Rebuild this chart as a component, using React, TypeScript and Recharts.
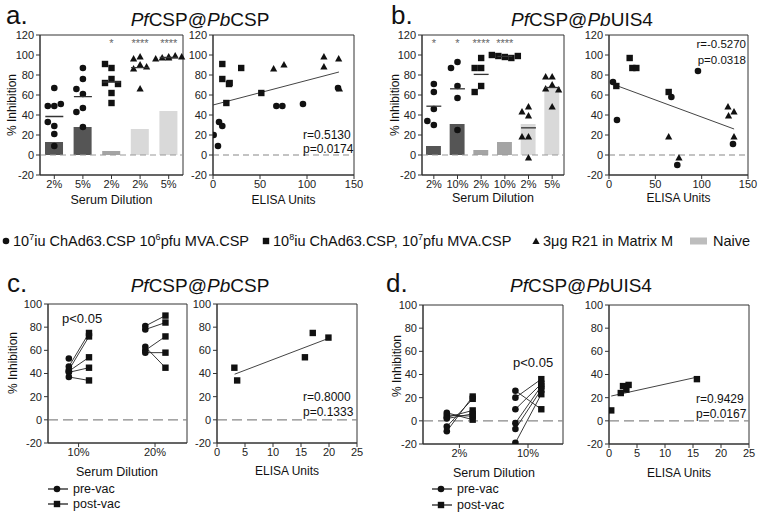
import React from 'react';
import {
  ComposedChart,
  ScatterChart,
  Bar,
  Cell,
  Scatter,
  XAxis,
  YAxis,
  ReferenceLine,
  ReferenceArea,
} from 'recharts';

// ---------------- data ----------------
// Panel a (PfCSP@PbCSP)
const A_CATEGORIES = ['2%', '5%', '2%', '2%', '5%'];
const A_GROUPS = ['circle', 'circle', 'square', 'triangle', 'triangle'];
const A_NAIVE = [13, 28, 4, 26, 44];
const A_STARS = ['', '', '*', '****', '****'];
const A_POINTS = [
  [67, 49, 49, 51, 29, 33, 21, 9],
  [87, 76, 61, 66, 47, 43, 28],
  [87, 91, 76, 72, 71, 62, 52],
  [98, 96, 90, 86, 88, 66],
  [98, 97, 99, 96, 98, 97],
];
const A_ELISA_CIRCLE_X = [0.7, 5.3, 6.4, 9.9, 67.4, 73.8, 95.7, 133];
const A_ELISA_CIRCLE_Y = [20, 9, 33, 29, 49, 49, 51, 67];
const A_ELISA_SQUARE_X = [9.9, 9.9, 17.7, 17, 14.2, 30, 51.4];
const A_ELISA_SQUARE_Y = [91, 76, 72, 71, 52, 87, 62];
const A_ELISA_TRIANGLE_X = [64.5, 75.5, 118, 118, 133.7, 134.5];
const A_ELISA_TRIANGLE_Y = [86, 90, 98, 88, 96, 66];
const A_FIT_X = [0, 134];
const A_FIT_Y = [50, 83];
const A_STATS = ['r=0.5130', 'p=0.0174'];

// Panel b (PfCSP@PbUIS4)
const B_CATEGORIES = ['2%', '10%', '2%', '10%', '2%', '5%'];
const B_GROUPS = ['circle', 'circle', 'square', 'square', 'triangle', 'triangle'];
const B_NAIVE = [9, 31, 5, 13, 31, 68];
const B_STARS = ['*', '*', '****', '****', '', ''];
const B_POINTS = [
  [63, 71, 46, 30, 34],
  [93, 87, 69, 57, 25],
  [97, 87, 87, 69, 63],
  [98, 99, 97, 100, 99],
  [48, 43, 39, 18, 18, -3],
  [78, 78, 70, 66, 65, 48],
];
const B_ELISA_CIRCLE_X = [4.3, 8.6, 67.3, 96, 73.7, 133.8];
const B_ELISA_CIRCLE_Y = [73, 35, 58, 84, -10, 11];
const B_ELISA_SQUARE_X = [22.3, 25.2, 29.5, 7.9, 64.4];
const B_ELISA_SQUARE_Y = [97, 87, 87, 69, 63];
const B_ELISA_TRIANGLE_X = [64.4, 75.5, 128.4, 129, 134.9, 134.9];
const B_ELISA_TRIANGLE_Y = [18, -3, 48, 39, 43, 18];
const B_FIT_X = [5, 135];
const B_FIT_Y = [70.5, 26];
const B_STATS = ['r=-0.5270', 'p=0.0318'];

// Panel c (paired, PfCSP@PbCSP)
const C_CATEGORIES = ['10%', '20%'];
const C_PRE = [
  [46, 43, 42, 41, 37, 53],
  [81, 78, 60, 58, 63],
];
const C_POST = [
  [75, 72, 54, 45, 34, null],
  [90, 84, 72, 58, 45],
];
const C_ELISA_X = [3.1, 3.6, 15.7, 17.1, 19.9];
const C_ELISA_Y = [45, 34, 54, 75, 71];
const C_FIT_X = [3.15, 19.9];
const C_FIT_Y = [39.4, 70.3];
const C_STATS = ['r=0.8000', 'p=0.1333'];

// Panel d (paired, PfCSP@PbUIS4)
const D_CATEGORIES = ['2%', '10%'];
const D_PRE = [
  [-9, -5, 7, 5, 3, 2],
  [26, 20, 10, -2, -7, -19],
];
const D_POST = [
  [21, 19, 1, 4, 9, 6],
  [10, 36, 32, 30, 27, 23],
];
const D_ELISA_X = [0.4, 2.1, 2.5, 3.1, 3.5, 15.7];
const D_ELISA_Y = [9, 24, 30, 27, 31, 36];
const D_FIT_X = [0.4, 15.7];
const D_FIT_Y = [21.4, 37.7];
const D_STATS = ['r=0.9429', 'p=0.0167'];

// ---------------- styles ----------------
const FONT = '"Liberation Sans", Arial, Helvetica, sans-serif';
const TICK = { fontSize: 11, fill: '#222', fontFamily: FONT };
const AXIS = { stroke: '#333', strokeWidth: 1 };
const GROUP_FILL: Record<string, string> = {
  circle: '#555555',
  square: '#a4a4a4',
  triangle: '#d9d9d9',
};
const ML = 50;
const MT = 12;
const MR = 12;
const XH = 40;

type Box = { x: number; y: number; w: number; h: number };

const drawMarker = (kind: string, x: number, y: number, fill = '#111') => {
  if (kind === 'circle') return <circle cx={x} cy={y} r={3.3} fill={fill} />;
  if (kind === 'square') return <rect x={x - 3.2} y={y - 3.2} width={6.4} height={6.4} fill={fill} />;
  return (
    <polygon
      points={`${x},${y - 4} ${x - 3.6},${y + 2.6} ${x + 3.6},${y + 2.6}`}
      fill={fill}
    />
  );
};

const markerShape = (kind: string) => (p: any) => {
  if (p == null || p.cx == null || p.cy == null) return <g />;
  const j = (p.payload && p.payload.j) || 0;
  return drawMarker(kind, p.cx + j, p.cy);
};

function swarm(vals: number[], pxPerUnit: number, size: number): number[] {
  const placed: { x: number; y: number }[] = [];
  const cands = [0, -size, size, -size / 2, size / 2, -1.5 * size, 1.5 * size, -2 * size, 2 * size];
  return vals.map((v) => {
    const y = v * pxPerUnit;
    let chosen = 0;
    for (const c of cands) {
      if (placed.every((q) => Math.hypot(q.x - c, q.y - y) >= size)) {
        chosen = c;
        break;
      }
    }
    placed.push({ x: chosen, y });
    return chosen;
  });
}

const zip = (xs: number[], ys: number[]) => xs.map((x, i) => ({ x, y: ys[i] }));

function T(props: {
  x: number;
  y: number;
  size: number;
  anchor?: 'left' | 'center' | 'right';
  rotate?: boolean;
  color?: string;
  children: React.ReactNode;
}) {
  const { x, y, size, anchor = 'left', rotate, color = '#111', children } = props;
  const tx = anchor === 'center' ? '-50%' : anchor === 'right' ? '-100%' : '0';
  return (
    <div
      style={{
        position: 'absolute',
        left: x,
        top: y,
        fontSize: size,
        lineHeight: 1,
        fontFamily: FONT,
        color,
        whiteSpace: 'nowrap',
        transform: rotate
          ? 'translate(-50%, -50%) rotate(-90deg)'
          : `translate(${tx}, -50%)`,
      }}
    >
      {children}
    </div>
  );
}

// ---------------- bar + dots panel ----------------
function BarPanel(props: {
  box: Box;
  cats: string[];
  groups: string[];
  naive: number[];
  stars: string[];
  points: number[][];
}) {
  const { box, cats, groups, naive, stars, points } = props;
  const ppu = box.h / 140;
  const ids = cats.map((_, i) => 'c' + i);
  const rows = ids.map((id, i) => ({ id, naive: naive[i] }));
  const bw = (box.w / cats.length) * 0.63;
  const series: Record<string, any[]> = { circle: [], square: [], triangle: [] };
  points.forEach((vals, i) => {
    const off = swarm(vals, ppu, 6.5);
    vals.forEach((v, k) => series[groups[i]].push({ id: ids[i], v, j: off[k] }));
  });
  const means = points.map((vals, i) => ({
    id: ids[i],
    v: vals.reduce((a, b) => a + b, 0) / vals.length,
  }));
  const starRows = stars.map((s, i) => ({ id: ids[i], v: 112, s }));
  return (
    <div style={{ position: 'absolute', left: box.x - ML, top: box.y - MT }}>
      <ComposedChart
        width={box.w + ML + MR}
        height={box.h + MT + XH}
        data={rows}
        margin={{ top: MT, right: MR, bottom: 0, left: 0 }}
      >
        <XAxis
          dataKey="id"
          type="category"
          allowDuplicatedCategory={false}
          height={XH}
          tick={TICK}
          tickSize={4}
          tickMargin={1}
          axisLine={AXIS}
          tickLine={AXIS}
          interval={0}
          tickFormatter={(id: string) => cats[Number(String(id).slice(1))]}
        />
        <YAxis
          type="number"
          domain={[-20, 120]}
          ticks={[-20, 0, 20, 40, 60, 80, 100, 120]}
          width={ML}
          tick={TICK}
          tickSize={4}
          tickMargin={2}
          axisLine={AXIS}
          tickLine={AXIS}
          interval={0}
          allowDataOverflow
        />
        <ReferenceArea y1={-20} y2={120} fill="none" stroke="#333" strokeWidth={1} />
        <Scatter
          data={starRows}
          dataKey="v"
          isAnimationActive={false}
          shape={(p: any) =>
            p && p.payload && p.payload.s ? (
              <text
                x={p.cx}
                y={p.cy}
                textAnchor="middle"
                dominantBaseline="central"
                fontSize={11}
                fontFamily={FONT}
                fill="#666"
              >
                {p.payload.s}
              </text>
            ) : (
              <g />
            )
          }
        />
        <Bar dataKey="naive" barSize={bw} isAnimationActive={false}>
          {rows.map((r, i) => (
            <Cell key={r.id} fill={GROUP_FILL[groups[i]]} />
          ))}
        </Bar>
        <ReferenceLine y={0} stroke="#999" strokeDasharray="6 4" strokeWidth={1.2} />
        {['circle', 'square', 'triangle'].map((k) => (
          <Scatter
            key={k}
            data={series[k]}
            dataKey="v"
            isAnimationActive={false}
            shape={markerShape(k)}
          />
        ))}
        <Scatter
          data={means}
          dataKey="v"
          isAnimationActive={false}
          shape={(p: any) =>
            p && p.cx != null ? (
              <line
                x1={p.cx - bw / 2}
                x2={p.cx + bw / 2}
                y1={p.cy}
                y2={p.cy}
                stroke="#333"
                strokeWidth={1.3}
              />
            ) : (
              <g />
            )
          }
        />
      </ComposedChart>
    </div>
  );
}

// ---------------- correlation panel ----------------
function CorrPanel(props: {
  box: Box;
  xDomain: [number, number];
  xTicks: number[];
  yDomain: [number, number];
  yTicks: number[];
  series: { kind: string; data: { x: number; y: number }[] }[];
  fitX: number[];
  fitY: number[];
  dash: string;
}) {
  const { box, xDomain, xTicks, yDomain, yTicks, series, fitX, fitY, dash } = props;
  return (
    <div style={{ position: 'absolute', left: box.x - ML, top: box.y - MT }}>
      <ScatterChart
        width={box.w + ML + MR}
        height={box.h + MT + XH}
        margin={{ top: MT, right: MR, bottom: 0, left: 0 }}
      >
        <XAxis
          type="number"
          dataKey="x"
          domain={xDomain}
          ticks={xTicks}
          height={XH}
          tick={TICK}
          tickSize={4}
          tickMargin={1}
          axisLine={AXIS}
          tickLine={AXIS}
          interval={0}
          allowDataOverflow
        />
        <YAxis
          type="number"
          dataKey="y"
          domain={yDomain}
          ticks={yTicks}
          width={ML}
          tick={TICK}
          tickSize={4}
          tickMargin={2}
          axisLine={AXIS}
          tickLine={AXIS}
          interval={0}
          allowDataOverflow
        />
        <ReferenceArea
          x1={xDomain[0]}
          x2={xDomain[1]}
          y1={yDomain[0]}
          y2={yDomain[1]}
          fill="none"
          stroke="#333"
          strokeWidth={1}
        />
        <ReferenceLine y={0} stroke="#888" strokeDasharray={dash} strokeWidth={1.2} />
        <ReferenceLine
          segment={[
            { x: fitX[0], y: fitY[0] },
            { x: fitX[1], y: fitY[1] },
          ]}
          stroke="#444"
          strokeWidth={1}
        />
        {series.map((s, i) => (
          <Scatter
            key={i}
            data={s.data}
            isAnimationActive={false}
            shape={markerShape(s.kind)}
          />
        ))}
      </ScatterChart>
    </div>
  );
}

// ---------------- paired pre/post panel ----------------
function PairedPanel(props: {
  box: Box;
  cats: string[];
  tickPos: number[];
  preOff: number;
  postOff: number;
  pre: (number | null)[][];
  post: (number | null)[][];
}) {
  const { box, cats, tickPos, preOff, postOff, pre, post } = props;
  const preData: { x: number; y: number }[] = [];
  const postData: { x: number; y: number }[] = [];
  const segs: { x1: number; y1: number; x2: number; y2: number }[] = [];
  pre.forEach((vals, g) => {
    vals.forEach((v, k) => {
      const w = post[g][k];
      if (v != null) preData.push({ x: tickPos[g] + preOff, y: v });
      if (w != null) postData.push({ x: tickPos[g] + postOff, y: w });
      if (v != null && w != null)
        segs.push({ x1: tickPos[g] + preOff, y1: v, x2: tickPos[g] + postOff, y2: w });
    });
  });
  return (
    <div style={{ position: 'absolute', left: box.x - ML, top: box.y - MT }}>
      <ScatterChart
        width={box.w + ML + MR}
        height={box.h + MT + XH}
        margin={{ top: MT, right: MR, bottom: 0, left: 0 }}
      >
        <XAxis
          type="number"
          dataKey="x"
          domain={[0, 1]}
          ticks={tickPos}
          height={XH}
          tick={TICK}
          tickSize={4}
          tickMargin={1}
          axisLine={AXIS}
          tickLine={AXIS}
          interval={0}
          tickFormatter={(v: number) => cats[tickPos.indexOf(v)]}
          allowDataOverflow
        />
        <YAxis
          type="number"
          dataKey="y"
          domain={[-20, 100]}
          ticks={[-20, 0, 20, 40, 60, 80, 100]}
          width={ML}
          tick={TICK}
          tickSize={4}
          tickMargin={2}
          axisLine={AXIS}
          tickLine={AXIS}
          interval={0}
          allowDataOverflow
        />
        <ReferenceArea x1={0} x2={1} y1={-20} y2={100} fill="none" stroke="#333" strokeWidth={1} />
        <ReferenceLine y={0} stroke="#888" strokeDasharray="10 5" strokeWidth={1.2} />
        {segs.map((s, i) => (
          <ReferenceLine
            key={i}
            segment={[
              { x: s.x1, y: s.y1 },
              { x: s.x2, y: s.y2 },
            ]}
            stroke="#222"
            strokeWidth={0.9}
          />
        ))}
        <Scatter data={preData} isAnimationActive={false} shape={markerShape('circle')} />
        <Scatter data={postData} isAnimationActive={false} shape={markerShape('square')} />
      </ScatterChart>
    </div>
  );
}

function LegendItem({ x, y, kind, label }: { x: number; y: number; kind: string; label: string }) {
  return (
    <>
      <svg
        width={22}
        height={10}
        style={{ position: 'absolute', left: x, top: y - 5, overflow: 'visible' }}
      >
        <line x1={0} x2={20} y1={5} y2={5} stroke="#111" strokeWidth={1.2} />
        {drawMarker(kind, 9, 5)}
      </svg>
      <T x={x + 25} y={y} size={12.5}>
        {label}
      </T>
    </>
  );
}

const Title = ({ x, y, target }: { x: number; y: number; target: string }) => (
  <T x={x} y={y} size={19} anchor="center">
    <i>Pf</i>CSP@<i>Pb</i>
    {target}
  </T>
);

const sup = (s: string) => (
  <sup style={{ fontSize: 9, verticalAlign: 'top', position: 'relative', top: -1 }}>{s}</sup>
);

export default function App() {
  const A1: Box = { x: 40, y: 35, w: 143, h: 140 };
  const A2: Box = { x: 213, y: 35, w: 141, h: 140 };
  const B1: Box = { x: 422, y: 35, w: 142, h: 140 };
  const B2: Box = { x: 609, y: 35, w: 139, h: 140 };
  const C1: Box = { x: 48, y: 304, w: 139, h: 139 };
  const C2: Box = { x: 217, y: 304, w: 140, h: 139 };
  const D1: Box = { x: 423, y: 305, w: 140, h: 139 };
  const D2: Box = { x: 609, y: 305, w: 140, h: 139 };
  const yTicksAB = [-20, 0, 20, 40, 60, 80, 100, 120];
  const yTicksCD = [-20, 0, 20, 40, 60, 80, 100];

  return (
    <div
      style={{
        position: 'absolute',
        left: 0,
        top: 0,
        width: 760,
        height: 514,
        background: '#fff',
        overflow: 'hidden',
        fontFamily: FONT,
      }}
    >
      {/* panel letters and titles */}
      <T x={6} y={15} size={26}>a.</T>
      <T x={391} y={15} size={26}>b.</T>
      <T x={7} y={283} size={26}>c.</T>
      <T x={386} y={283} size={26}>d.</T>
      <Title x={200} y={19} target="CSP" />
      <Title x={582} y={19} target="UIS4" />
      <Title x={200} y={285} target="CSP" />
      <Title x={581} y={285} target="UIS4" />

      {/* panel a */}
      <BarPanel
        box={A1}
        cats={A_CATEGORIES}
        groups={A_GROUPS}
        naive={A_NAIVE}
        stars={A_STARS}
        points={A_POINTS}
      />
      <CorrPanel
        box={A2}
        xDomain={[0, 150]}
        xTicks={[0, 50, 100, 150]}
        yDomain={[-20, 120]}
        yTicks={yTicksAB}
        series={[
          { kind: 'circle', data: zip(A_ELISA_CIRCLE_X, A_ELISA_CIRCLE_Y) },
          { kind: 'square', data: zip(A_ELISA_SQUARE_X, A_ELISA_SQUARE_Y) },
          { kind: 'triangle', data: zip(A_ELISA_TRIANGLE_X, A_ELISA_TRIANGLE_Y) },
        ]}
        fitX={A_FIT_X}
        fitY={A_FIT_Y}
        dash="6 4"
      />
      <T x={12} y={105} size={12} rotate>% Inhibition</T>
      <T x={111.5} y={200} size={12.5} anchor="center">Serum Dilution</T>
      <T x={283.5} y={200} size={12} anchor="center">ELISA Units</T>
      <T x={303} y={135} size={12}>{A_STATS[0]}</T>
      <T x={303} y={149} size={12}>{A_STATS[1]}</T>

      {/* panel b */}
      <BarPanel
        box={B1}
        cats={B_CATEGORIES}
        groups={B_GROUPS}
        naive={B_NAIVE}
        stars={B_STARS}
        points={B_POINTS}
      />
      <CorrPanel
        box={B2}
        xDomain={[0, 150]}
        xTicks={[0, 50, 100, 150]}
        yDomain={[-20, 120]}
        yTicks={yTicksAB}
        series={[
          { kind: 'circle', data: zip(B_ELISA_CIRCLE_X, B_ELISA_CIRCLE_Y) },
          { kind: 'square', data: zip(B_ELISA_SQUARE_X, B_ELISA_SQUARE_Y) },
          { kind: 'triangle', data: zip(B_ELISA_TRIANGLE_X, B_ELISA_TRIANGLE_Y) },
        ]}
        fitX={B_FIT_X}
        fitY={B_FIT_Y}
        dash="6 4"
      />
      <T x={395} y={105} size={12} rotate>% Inhibition</T>
      <T x={493} y={198} size={12.5} anchor="center">Serum Dilution</T>
      <T x={678.5} y={198} size={12} anchor="center">ELISA Units</T>
      <T x={746} y={45} size={11.5} anchor="right">{B_STATS[0]}</T>
      <T x={746} y={61} size={11.5} anchor="right">{B_STATS[1]}</T>

      {/* legend row */}
      <svg width={760} height={16} style={{ position: 'absolute', left: 0, top: 233 }}>
        {drawMarker('circle', 6, 8)}
        {drawMarker('square', 266, 8)}
        {drawMarker('triangle', 536, 8.5)}
        <rect x={690} y={4.5} width={17} height={7} fill="#bdbdbd" />
      </svg>
      <T x={13} y={241} size={14.5}>
        10{sup('7')}iu ChAd63.CSP 10{sup('6')}pfu MVA.CSP
      </T>
      <T x={273} y={241} size={14.5}>
        10{sup('8')}iu ChAd63.CSP, 10{sup('7')}pfu MVA.CSP
      </T>
      <T x={543} y={241} size={14.5}>3μg R21 in Matrix M</T>
      <T x={713} y={241} size={14.5}>Naive</T>

      {/* panel c */}
      <PairedPanel
        box={C1}
        cats={C_CATEGORIES}
        tickPos={[0.22, 0.77]}
        preOff={-0.07}
        postOff={0.075}
        pre={C_PRE}
        post={C_POST}
      />
      <CorrPanel
        box={C2}
        xDomain={[0, 25]}
        xTicks={[0, 5, 10, 15, 20, 25]}
        yDomain={[-20, 100]}
        yTicks={yTicksCD}
        series={[{ kind: 'square', data: zip(C_ELISA_X, C_ELISA_Y) }]}
        fitX={C_FIT_X}
        fitY={C_FIT_Y}
        dash="10 5"
      />
      <T x={13} y={363} size={12} rotate>% Inhibition</T>
      <T x={117} y={472} size={12.5} anchor="center">Serum Dilution</T>
      <T x={287} y={471} size={12} anchor="center">ELISA Units</T>
      <T x={62} y={318} size={13}>p&lt;0.05</T>
      <T x={303} y={397} size={12}>{C_STATS[0]}</T>
      <T x={303} y={412} size={12}>{C_STATS[1]}</T>
      <LegendItem x={48} y={489} kind="circle" label="pre-vac" />
      <LegendItem x={48} y={504} kind="square" label="post-vac" />

      {/* panel d */}
      <PairedPanel
        box={D1}
        cats={D_CATEGORIES}
        tickPos={[0.26, 0.75]}
        preOff={-0.09}
        postOff={0.095}
        pre={D_PRE}
        post={D_POST}
      />
      <CorrPanel
        box={D2}
        xDomain={[0, 25]}
        xTicks={[0, 5, 10, 15, 20, 25]}
        yDomain={[-20, 100]}
        yTicks={yTicksCD}
        series={[{ kind: 'square', data: zip(D_ELISA_X, D_ELISA_Y) }]}
        fitX={D_FIT_X}
        fitY={D_FIT_Y}
        dash="10 5"
      />
      <T x={397} y={366} size={12} rotate>% Inhibition</T>
      <T x={494} y={473} size={12.5} anchor="center">Serum Dilution</T>
      <T x={679} y={473} size={12} anchor="center">ELISA Units</T>
      <T x={513} y={362} size={13}>p&lt;0.05</T>
      <T x={696} y={399} size={12}>{D_STATS[0]}</T>
      <T x={696} y={414} size={12}>{D_STATS[1]}</T>
      <LegendItem x={432} y={489} kind="circle" label="pre-vac" />
      <LegendItem x={432} y={505} kind="square" label="post-vac" />
    </div>
  );
}
